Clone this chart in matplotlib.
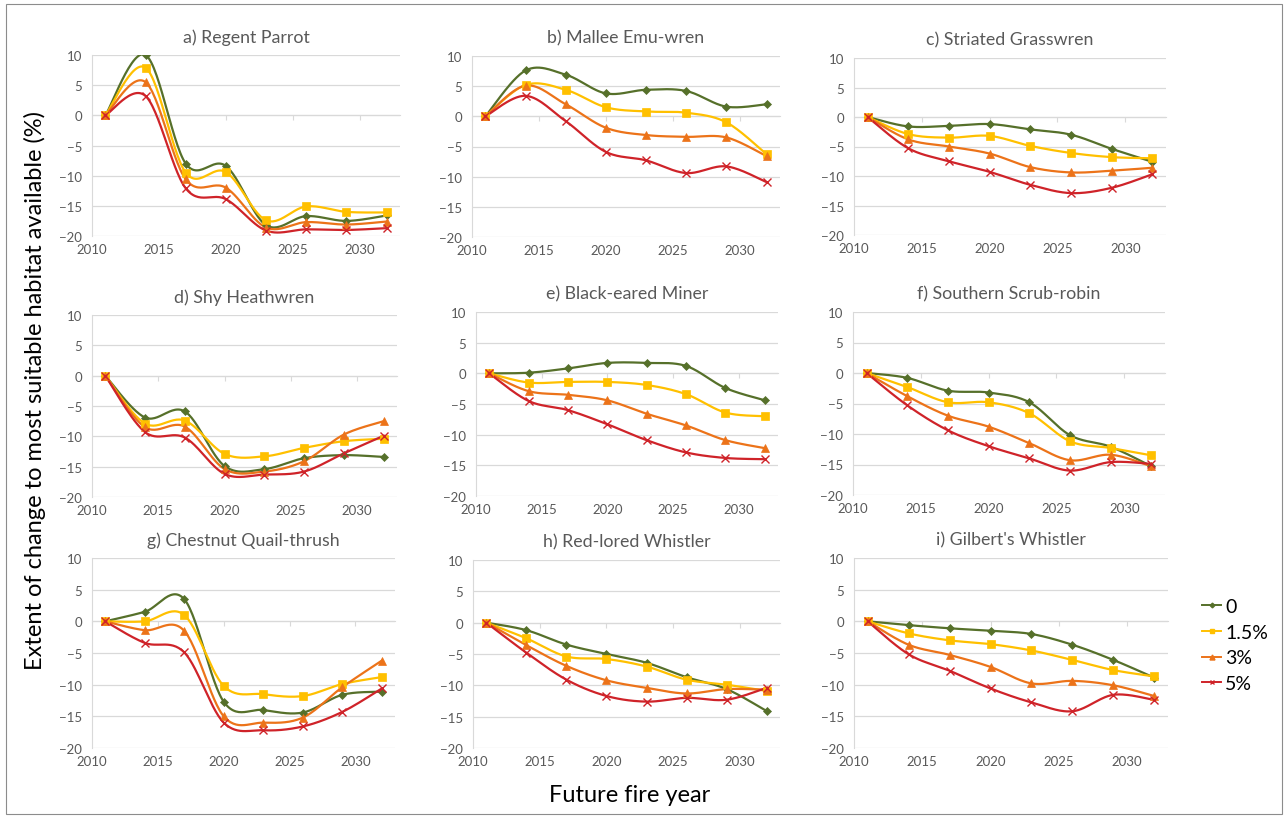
import numpy as np
import matplotlib
matplotlib.use("Agg")
import matplotlib.pyplot as plt
from matplotlib.patches import Rectangle
from matplotlib.lines import Line2D

plt.rcParams["font.family"] = ["Lato", "DejaVu Sans"]

# Future fire years and fire-frequency scenarios
years = [2011, 2014, 2017, 2020, 2023, 2026, 2029, 2032]
scenarios = ["0", "1.5%", "3%", "5%"]

# % change in most suitable habitat, one row per scenario (0, 1.5%, 3%, 5%)
regent_parrot = [
    [0, 10.0, -8.0, -8.4, -18.2, -16.7, -17.5, -16.6],
    [0, 7.9, -9.5, -9.4, -17.4, -15.1, -16.0, -16.1],
    [0, 5.5, -10.6, -12.0, -18.6, -17.7, -18.1, -17.6],
    [0, 3.2, -12.1, -13.9, -19.1, -18.9, -19.0, -18.7],
]
mallee_emu_wren = [
    [0, 7.6, 6.9, 3.8, 4.4, 4.2, 1.6, 2.0],
    [0, 5.2, 4.4, 1.5, 0.8, 0.6, -1.0, -6.3],
    [0, 5.1, 2.0, -1.9, -3.1, -3.4, -3.5, -6.6],
    [0, 3.4, -0.8, -5.9, -7.3, -9.4, -8.3, -10.9],
]
striated_grasswren = [
    [0, -1.6, -1.5, -1.2, -2.1, -3.0, -5.4, -7.6],
    [0, -2.9, -3.5, -3.2, -4.9, -6.1, -6.8, -7.0],
    [0, -3.8, -5.0, -6.2, -8.5, -9.4, -9.1, -8.6],
    [0, -5.3, -7.5, -9.3, -11.5, -12.9, -12.0, -9.7],
]
shy_heathwren = [
    [0, -6.9, -5.9, -14.9, -15.4, -13.6, -13.1, -13.4],
    [0, -7.9, -7.4, -12.9, -13.3, -11.9, -10.8, -10.4],
    [0, -8.5, -8.4, -15.4, -15.8, -14.1, -9.7, -7.5],
    [0, -9.3, -10.2, -16.2, -16.3, -15.8, -12.8, -9.9],
]
black_eared_miner = [
    [0, 0.1, 0.8, 1.7, 1.7, 1.2, -2.4, -4.4],
    [0, -1.5, -1.4, -1.4, -1.9, -3.4, -6.4, -7.0],
    [0, -2.9, -3.5, -4.4, -6.6, -8.5, -10.9, -12.2],
    [0, -4.5, -6.0, -8.3, -10.9, -12.9, -13.8, -14.0],
]
southern_scrub_robin = [
    [0, -0.8, -2.9, -3.2, -4.8, -10.2, -12.1, -15.3],
    [0, -2.3, -4.8, -4.8, -6.6, -11.2, -12.3, -13.5],
    [0, -3.8, -7.0, -8.8, -11.5, -14.3, -13.4, -15.3],
    [0, -5.3, -9.4, -12.0, -14.0, -16.0, -14.6, -14.9],
]
chestnut_quail_thrush = [
    [0, 1.5, 3.5, -12.7, -14.0, -14.4, -11.6, -11.1],
    [0, 0.0, 1.0, -10.2, -11.5, -11.8, -9.9, -8.8],
    [0, -1.4, -1.5, -15.0, -16.0, -15.2, -10.4, -6.2],
    [0, -3.4, -4.9, -16.0, -17.2, -16.6, -14.3, -10.6],
]
red_lored_whistler = [
    [0, -1.2, -3.5, -5.0, -6.4, -8.7, -10.6, -14.1],
    [0, -2.5, -5.4, -5.8, -7.0, -9.1, -9.9, -10.9],
    [0, -3.6, -6.9, -9.2, -10.4, -11.3, -10.6, -10.7],
    [0, -4.8, -9.1, -11.7, -12.6, -12.0, -12.3, -10.4],
]
gilberts_whistler = [
    [0, -0.6, -1.1, -1.5, -2.0, -3.7, -6.1, -8.9],
    [0, -1.9, -3.0, -3.6, -4.6, -6.1, -7.7, -8.7],
    [0, -3.7, -5.3, -7.2, -9.8, -9.4, -10.1, -11.8],
    [0, -5.2, -7.8, -10.6, -12.8, -14.2, -11.6, -12.4],
]

titles = [
    "a) Regent Parrot", "b) Mallee Emu-wren", "c) Striated Grasswren",
    "d) Shy Heathwren", "e) Black-eared Miner", "f) Southern Scrub-robin",
    "g) Chestnut Quail-thrush", "h) Red-lored Whistler", "i) Gilbert's Whistler",
]
species_data = [
    regent_parrot, mallee_emu_wren, striated_grasswren,
    shy_heathwren, black_eared_miner, southern_scrub_robin,
    chestnut_quail_thrush, red_lored_whistler, gilberts_whistler,
]

colors = ["#56702a", "#ffc000", "#ec7319", "#cf2329"]
markers = ["D", "s", "^", "x"]
msizes = [4, 6, 6, 6]

W, H = 1287, 820
# plot-area bounds in pixels: left, right, top (y=10), bottom (y=-20)
bounds = [
    (92, 400, 56, 237), (472, 780, 57, 238), (854, 1166, 59, 236),
    (92, 397, 316, 498), (476, 778, 313, 497), (853, 1165, 313, 496),
    (92, 395, 559, 749), (473, 780, 561, 749), (854, 1168, 559, 749),
]


def smooth(xs, ys, n=30):
    """Bezier smoothing through every point (Catmull-Rom style)."""
    p = np.column_stack([xs, ys]).astype(float)
    m = len(p)
    out = [p[0]]
    t = np.linspace(0, 1, n)[1:, None]
    for i in range(m - 1):
        p0 = p[max(i - 1, 0)]
        p1 = p[i]
        p2 = p[i + 1]
        p3 = p[min(i + 2, m - 1)]
        c1 = p1 + (p2 - p0) / 6.0
        c2 = p2 - (p3 - p1) / 6.0
        seg = ((1 - t) ** 3) * p1 + 3 * ((1 - t) ** 2) * t * c1 \
            + 3 * (1 - t) * t ** 2 * c2 + t ** 3 * p2
        out.extend(seg)
    out = np.array(out)
    return out[:, 0], out[:, 1]


fig = plt.figure(figsize=(W / 100, H / 100), dpi=100)
fig.add_artist(Rectangle((6 / W, 1 - 815 / H), 1276 / W, 810 / H,
                         transform=fig.transFigure, fill=False,
                         edgecolor="#8c8c8c", linewidth=0.8))

grid_c = "#d9d9d9"
text_c = "#595959"

for title, data, (l, r, t, b) in zip(titles, species_data, bounds):
    ax = fig.add_axes([l / W, 1 - b / H, (r - l) / W, (b - t) / H])
    ax.set_xlim(2010, 2033)
    ax.set_ylim(-20, 10)
    ax.set_yticks(range(-20, 11, 5))
    ax.set_xticks(range(2010, 2031, 5))
    ax.grid(axis="y", color=grid_c, linewidth=0.9)
    ax.set_axisbelow(True)
    for s in ["top", "right", "bottom"]:
        ax.spines[s].set_visible(False)
    ax.spines["left"].set_color(grid_c)
    ax.tick_params(axis="both", length=0, labelsize=9.5, labelcolor=text_c)
    ax.tick_params(axis="y", pad=7)
    ax.tick_params(axis="x", pad=5)
    ax.set_title(title, fontsize=12.8, color=text_c, pad=9.5)

    # horizontal axis line crossing at zero, with tick marks
    sec = ax.secondary_xaxis(2 / 3)
    sec.set_xticks(range(2010, 2031, 5))
    sec.tick_params(direction="in", length=3.5, color=grid_c,
                    labeltop=False, labelbottom=False)
    for s in sec.spines.values():
        s.set_color(grid_c)

    for k in range(4):
        sx, sy = smooth(years, data[k])
        ax.plot(sx, sy, color=colors[k], linewidth=1.6, zorder=3)
        ax.plot(years, data[k], linestyle="none", marker=markers[k],
                markersize=msizes[k], color=colors[k],
                markeredgewidth=1.0 if markers[k] == "x" else 0.5,
                zorder=4)

handles = [Line2D([], [], color=colors[k], marker=markers[k],
                  markersize=msizes[k] * 0.6, linewidth=1.4)
           for k in range(4)]
fig.legend(handles, scenarios, loc="upper left",
           bbox_to_anchor=(1202 / W, 1 - 599 / H), frameon=False,
           fontsize=14, handlelength=1.0, handletextpad=0.2,
           labelspacing=0.45, borderaxespad=0, borderpad=0)

fig.text(35 / W, 1 - 390 / H,
         "Extent of change to most suitable habitat available (%)",
         rotation=90, ha="center", va="center", fontsize=17)
fig.text(630 / W, 1 - 796 / H, "Future fire year",
         ha="center", va="center", fontsize=17)

fig.savefig("out.png", dpi=100)
